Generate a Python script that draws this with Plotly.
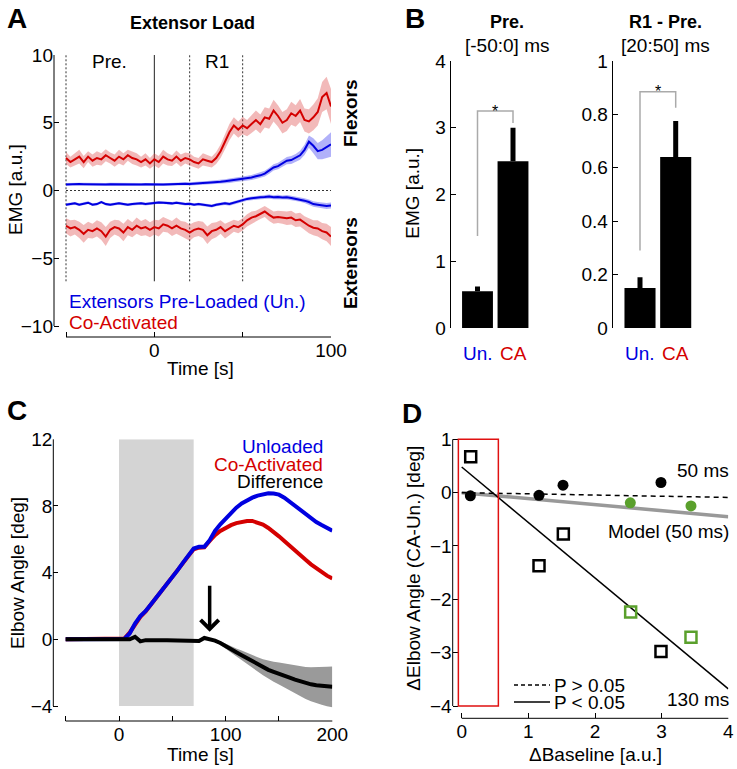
import plotly.graph_objects as go

W, H = 737, 769
FONT = "Liberation Sans, Arial, Helvetica, sans-serif"
RED = "#d40000"
BLUE = "#0000e0"
GREEN = "#5aa02c"


def px(x):
    return x / W


def py(y):
    return 1 - y / H


# ---------------- Panel A data (EMG, extensor load) ----------------
t_a = [-50, -47.5, -45, -42.5, -40, -37.5, -35, -32.5, -30, -27.5,
       -25, -22.5, -20, -17.5, -15, -12.5, -10, -7.5, -5, -2.5,
       0, 2.5, 5, 7.5, 10, 12.5, 15, 17.5, 20, 22.5,
       25, 27.5, 30, 32.5, 35, 37.5, 40, 42.5, 45, 47.5,
       50, 52.5, 55, 57.5, 60, 62.5, 65, 67.5, 70, 72.5,
       75, 77.5, 80, 82.5, 85, 87.5, 90, 92.5, 95, 97.5,
       100]
flex_ca = [2.4, 2.1, 2.3, 2.5, 2.1, 2.5, 2.2, 2.4, 2.3, 2.6,
           2.4, 2.2, 2.5, 2.3, 2.6, 2.4, 2.3, 2.1, 2.3, 2.0,
           2.3, 2.1, 2.5, 2.3, 2.2, 2.5, 2.2, 2.4, 2.3, 2.1,
           2.0, 2.3, 2.2, 2.1, 2.4, 2.9, 3.6, 4.3, 4.8, 4.5,
           4.8, 4.6, 4.9, 5.2, 4.9, 5.4, 5.3, 5.9, 5.5, 5.0,
           5.2, 5.7, 5.5, 5.9, 5.2, 5.1, 5.4, 5.8, 6.9, 7.2,
           6.2]
flex_ca_sd = [0.45, 0.4, 0.45, 0.5, 0.45, 0.4, 0.45, 0.5, 0.45, 0.45,
              0.4, 0.45, 0.5, 0.45, 0.4, 0.45, 0.45, 0.4, 0.45, 0.4,
              0.45, 0.45, 0.5, 0.45, 0.4, 0.45, 0.45, 0.4, 0.45, 0.4,
              0.4, 0.45, 0.4, 0.4, 0.45, 0.5, 0.55, 0.6, 0.6, 0.6,
              0.65, 0.6, 0.65, 0.7, 0.7, 0.75, 0.75, 0.8, 0.8, 0.8,
              0.8, 0.85, 0.8, 0.85, 0.85, 0.9, 0.95, 1.0, 1.1, 1.2,
              1.3]
flex_un = [0.45, 0.47, 0.46, 0.48, 0.47, 0.46, 0.48, 0.47, 0.46, 0.45,
           0.47, 0.46, 0.45, 0.47, 0.46, 0.45, 0.44, 0.45, 0.46, 0.44,
           0.43, 0.45, 0.44, 0.46, 0.48, 0.47, 0.49, 0.50, 0.48, 0.52,
           0.53, 0.55, 0.57, 0.58, 0.62, 0.64, 0.68, 0.72, 0.76, 0.80,
           0.86, 0.90, 0.96, 1.05, 1.12, 1.25, 1.45, 1.70, 1.80, 2.00,
           2.20, 2.25, 2.40, 2.60, 3.00, 3.60, 3.30, 2.90, 3.00, 3.20,
           3.40]
flex_un_sd = [0.1, 0.1, 0.1, 0.1, 0.1, 0.1, 0.1, 0.1, 0.1, 0.1,
              0.1, 0.1, 0.1, 0.1, 0.1, 0.1, 0.1, 0.1, 0.1, 0.1,
              0.1, 0.1, 0.1, 0.1, 0.1, 0.1, 0.11, 0.11, 0.12, 0.12,
              0.12, 0.13, 0.13, 0.14, 0.14, 0.15, 0.15, 0.16, 0.16, 0.17,
              0.18, 0.18, 0.19, 0.2, 0.2, 0.21, 0.22, 0.23, 0.24, 0.25,
              0.27, 0.29, 0.3, 0.33, 0.38, 0.45, 0.55, 0.6, 0.7, 0.8,
              0.9]
ext_un = [-1.05, -1.0, -0.95, -1.05, -1.0, -0.9, -1.05, -1.0, -0.85, -1.0,
          -1.05, -1.0, -0.95, -1.0, -1.05, -1.0, -0.98, -0.95, -1.0, -0.95,
          -0.9, -0.88, -0.9, -0.92, -0.95, -0.9, -0.95, -1.0, -0.98, -1.05,
          -1.0, -1.05, -1.1, -1.15, -1.05, -1.0, -0.95, -1.0, -0.9, -0.8,
          -0.72, -0.62, -0.58, -0.52, -0.5, -0.48, -0.45, -0.5, -0.48, -0.52,
          -0.5, -0.55, -0.6, -0.65, -0.75, -0.85, -1.0, -1.05, -1.1, -1.15,
          -1.1]
ext_un_sd = [0.1, 0.1, 0.1, 0.1, 0.1, 0.1, 0.1, 0.1, 0.1, 0.1,
             0.1, 0.1, 0.1, 0.1, 0.1, 0.1, 0.1, 0.1, 0.1, 0.1,
             0.1, 0.1, 0.1, 0.1, 0.1, 0.1, 0.1, 0.1, 0.1, 0.1,
             0.1, 0.1, 0.11, 0.11, 0.11, 0.12, 0.12, 0.12, 0.12, 0.13,
             0.13, 0.13, 0.14, 0.14, 0.14, 0.15, 0.15, 0.15, 0.16, 0.16,
             0.16, 0.17, 0.17, 0.18, 0.18, 0.19, 0.2, 0.2, 0.21, 0.22,
             0.22]
ext_ca = [-2.6, -2.8, -2.7, -2.9, -3.2, -2.9, -3.0, -2.8, -3.0, -3.4,
          -2.9, -2.7, -2.8, -3.1, -2.7, -2.9, -2.6, -2.8, -2.7, -2.9,
          -2.7, -2.8, -2.5, -2.6, -2.8, -2.6, -2.8, -2.9, -3.1, -2.9,
          -2.8, -2.9, -3.3, -3.0, -2.9, -2.7, -3.0, -2.8, -2.6, -2.7,
          -2.5, -2.2, -2.0, -1.9, -1.7, -1.55, -1.8, -2.0, -1.95, -2.0,
          -2.05, -2.0, -2.2, -2.15, -2.4, -2.6, -2.75, -2.8, -3.0, -3.1,
          -3.4]
ext_ca_sd = [0.55, 0.6, 0.55, 0.6, 0.65, 0.6, 0.55, 0.6, 0.65, 0.7,
             0.6, 0.55, 0.6, 0.65, 0.6, 0.55, 0.6, 0.55, 0.6, 0.55,
             0.55, 0.6, 0.55, 0.5, 0.55, 0.6, 0.55, 0.6, 0.6, 0.55,
             0.55, 0.6, 0.65, 0.6, 0.55, 0.5, 0.55, 0.5, 0.45, 0.45,
             0.45, 0.45, 0.45, 0.4, 0.4, 0.4, 0.45, 0.45, 0.45, 0.45,
             0.5, 0.5, 0.5, 0.5, 0.5, 0.55, 0.55, 0.6, 0.6, 0.65,
             0.7]
window_dotted = [-50, 20, 50]
window_solid = [0]
window_ymin = -6.7
a_xticks = [-50, 0, 50, 100]
a_xticklabels = ["", "0", "", "100"]
a_yticks = [-10, -5, 0, 5, 10]

# ---------------- Panel B data ----------------
b_groups = ["Un.", "CA"]
pre_vals = [0.55, 2.5]
pre_err = [0.07, 0.5]
r1_vals = [0.15, 0.64]
r1_err = [0.04, 0.135]
pre_bracket = [1.38, 3.25, 3.07]   # left bottom, top, right bottom
r1_bracket = [0.29, 0.885, 0.825]
b1_yticks = [0, 1, 2, 3, 4]
b2_yticks = [0, 0.2, 0.4, 0.6, 0.8, 1]
b2_yticklabels = ["0", "0.2", "0.4", "0.6", "0.8", "1"]

# ---------------- Panel C data ----------------
t_c = [-50, -45, -40, -35, -30, -25, -20, -15, -10, -5,
       0, 5, 10, 15, 20, 25, 30, 35, 40, 45,
       50, 55, 60, 65, 70, 75, 80, 85, 90, 95,
       100, 105, 110, 115, 120, 125, 130, 135, 140, 145,
       150, 155, 160, 165, 170, 175, 180, 185, 190, 195,
       200]
ang_un = [0, 0, 0, 0, 0, 0, 0, 0, 0, 0,
          0, 0.02, 0.35, 0.95, 1.4, 1.7, 2.1, 2.5, 2.9, 3.3,
          3.7, 4.15, 4.6, 5.05, 5.45, 5.55, 5.55, 5.95, 6.5, 6.9,
          7.25, 7.6, 7.9, 8.15, 8.35, 8.5, 8.62, 8.72, 8.76, 8.75,
          8.68, 8.5, 8.25, 7.98, 7.72, 7.48, 7.25, 7.04, 6.86, 6.68,
          6.52]
ang_ca = [0, 0, 0, 0, 0, 0, 0, 0, 0, 0,
          0, 0.05, 0.4, 0.9, 1.35, 1.68, 2.08, 2.48, 2.88, 3.28,
          3.68, 4.12, 4.57, 5.0, 5.4, 5.5, 5.52, 5.9, 6.25, 6.5,
          6.7, 6.85, 6.97, 7.05, 7.1, 7.1, 7.02, 6.88, 6.68, 6.45,
          6.18, 5.9, 5.6, 5.32, 5.05, 4.77, 4.5, 4.25, 4.02, 3.82,
          3.65]
ang_diff = [0, 0, 0, 0, 0, 0, 0, 0, 0, 0,
            0, 0, 0, 0.15, -0.12, -0.05, -0.07, -0.04, -0.06, -0.05,
            -0.06, -0.04, -0.05, -0.06, -0.08, -0.1, 0.08, 0.02, -0.08, -0.22,
            -0.42, -0.6, -0.78, -0.95, -1.12, -1.3, -1.5, -1.68, -1.83, -1.95,
            -2.05, -2.17, -2.3, -2.42, -2.53, -2.62, -2.7, -2.76, -2.8, -2.83,
            -2.85]
diff_sd = [0, 0, 0, 0, 0, 0, 0, 0, 0, 0,
           0, 0, 0, 0, 0, 0, 0, 0, 0, 0,
           0, 0, 0, 0, 0, 0, 0.02, 0.03, 0.06, 0.1,
           0.14, 0.18, 0.23, 0.28, 0.33, 0.38, 0.43, 0.48, 0.54, 0.6,
           0.66, 0.72, 0.78, 0.84, 0.9, 0.96, 1.02, 1.08, 1.13, 1.18,
           1.22]
stim_window = [0, 70]
arrow_t = 85
arrow_y = [3.3, 0.45]
c_xticks = [-50, 0, 50, 100, 150, 200]
c_xticklabels = ["", "0", "", "100", "", "200"]
c_yticks = [-4, 0, 4, 8, 12]

# ---------------- Panel D data ----------------
base_50 = [0.13, 1.16, 1.52, 2.99]
delta_50 = [-0.06, -0.05, 0.14, 0.19]
base_50_g = [2.53, 3.44]
delta_50_g = [-0.19, -0.25]
base_130 = [0.135, 1.16, 1.525, 2.99]
delta_130 = [0.675, -1.37, -0.775, -2.98]
base_130_g = [2.535, 3.44]
delta_130_g = [-2.24, -2.71]
fit_x = [0, 4]
fit_50 = [0.0, -0.09]
model_50 = [0.0, -0.45]
fit_130 = [0.48, -3.68]
low_baseline_box = [-0.05, 0.55]
d_xticks = [0, 1, 2, 3, 4]
d_yticks = [-4, -3, -2, -1, 0, 1]

fig = go.Figure()


def band(x, m, s, color, xa, ya):
    up = [a + b for a, b in zip(m, s)]
    lo = [a - b for a, b in zip(m, s)]
    fig.add_trace(go.Scatter(x=x, y=up, mode="lines", line=dict(width=0),
                             hoverinfo="skip", showlegend=False, xaxis=xa, yaxis=ya))
    fig.add_trace(go.Scatter(x=x, y=lo, mode="lines", line=dict(width=0), fill="tonexty",
                             fillcolor=color, hoverinfo="skip", showlegend=False,
                             xaxis=xa, yaxis=ya))


# ---- Panel A traces ----
fig.add_trace(go.Scatter(x=[t_a[0], t_a[-1]], y=[0, 0], mode="lines",
                         line=dict(color="#333", width=1, dash="2px,2px"),
                         showlegend=False, xaxis="x", yaxis="y"))
for xv in window_dotted:
    fig.add_trace(go.Scatter(x=[xv, xv], y=[window_ymin, a_yticks[-1]], mode="lines",
                             line=dict(color="#333", width=1, dash="2px,2px"),
                             showlegend=False, xaxis="x", yaxis="y"))
for xv in window_solid:
    fig.add_trace(go.Scatter(x=[xv, xv], y=[window_ymin, a_yticks[-1]], mode="lines",
                             line=dict(color="#222", width=1),
                             showlegend=False, xaxis="x", yaxis="y"))

red_band = "rgba(222,70,70,0.38)"
blue_band = "rgba(70,70,240,0.42)"
band(t_a, flex_ca, flex_ca_sd, red_band, "x", "y")
band(t_a, ext_ca, ext_ca_sd, red_band, "x", "y")
band(t_a, flex_un, flex_un_sd, blue_band, "x", "y")
band(t_a, ext_un, ext_un_sd, blue_band, "x", "y")
for yv, c in [(flex_ca, RED), (ext_ca, RED), (flex_un, BLUE), (ext_un, BLUE)]:
    fig.add_trace(go.Scatter(x=t_a, y=yv, mode="lines", line=dict(color=c, width=2),
                             showlegend=False, xaxis="x", yaxis="y"))

# ---- Panel B traces ----
for vals, errs, br, xa, ya in [(pre_vals, pre_err, pre_bracket, "x2", "y2"),
                               (r1_vals, r1_err, r1_bracket, "x3", "y3")]:
    fig.add_trace(go.Bar(x=[1, 2], y=vals, width=0.87, marker=dict(color="black", line=dict(width=0)),
                         error_y=dict(type="data", array=errs, arrayminus=[0, 0], symmetric=False,
                                      thickness=5, width=0, color="black"),
                         showlegend=False, xaxis=xa, yaxis=ya))
    fig.add_trace(go.Scatter(x=[1, 1, 2, 2], y=[br[0], br[1], br[1], br[2]], mode="lines",
                             line=dict(color="#aaaaaa", width=1.5), showlegend=False,
                             xaxis=xa, yaxis=ya))

# ---- Panel C traces ----
fig.add_trace(go.Scatter(x=t_c, y=[a + b for a, b in zip(ang_diff, diff_sd)], mode="lines",
                         line=dict(width=0), hoverinfo="skip", showlegend=False,
                         xaxis="x4", yaxis="y4"))
fig.add_trace(go.Scatter(x=t_c, y=[a - b for a, b in zip(ang_diff, diff_sd)], mode="lines",
                         line=dict(width=0), fill="tonexty", fillcolor="#9a9a9a",
                         hoverinfo="skip", showlegend=False, xaxis="x4", yaxis="y4"))
fig.add_trace(go.Scatter(x=t_c, y=ang_ca, mode="lines", line=dict(color=RED, width=4),
                         showlegend=False, xaxis="x4", yaxis="y4"))
fig.add_trace(go.Scatter(x=t_c, y=ang_un, mode="lines", line=dict(color=BLUE, width=4),
                         showlegend=False, xaxis="x4", yaxis="y4"))
fig.add_trace(go.Scatter(x=t_c, y=ang_diff, mode="lines", line=dict(color="black", width=4),
                         showlegend=False, xaxis="x4", yaxis="y4"))

# ---- Panel D traces ----
fig.add_trace(go.Scatter(x=fit_x, y=model_50, mode="lines", line=dict(color="#999999", width=3.5),
                         showlegend=False, xaxis="x5", yaxis="y5"))
fig.add_trace(go.Scatter(x=fit_x, y=fit_50, mode="lines",
                         line=dict(color="black", width=1.5, dash="5px,4px"),
                         showlegend=False, xaxis="x5", yaxis="y5"))
fig.add_trace(go.Scatter(x=fit_x, y=fit_130, mode="lines", line=dict(color="black", width=1.5),
                         showlegend=False, xaxis="x5", yaxis="y5"))
fig.add_trace(go.Scatter(x=base_50, y=delta_50, mode="markers",
                         marker=dict(color="black", size=11, line=dict(width=0)),
                         showlegend=False, xaxis="x5", yaxis="y5"))
fig.add_trace(go.Scatter(x=base_50_g, y=delta_50_g, mode="markers",
                         marker=dict(color=GREEN, size=11, line=dict(width=0)),
                         showlegend=False, xaxis="x5", yaxis="y5"))
fig.add_trace(go.Scatter(x=base_130, y=delta_130, mode="markers",
                         marker=dict(symbol="square-open", color="black", size=11,
                                     line=dict(width=2.5, color="black")),
                         showlegend=False, xaxis="x5", yaxis="y5"))
fig.add_trace(go.Scatter(x=base_130_g, y=delta_130_g, mode="markers",
                         marker=dict(symbol="square-open", color=GREEN, size=11,
                                     line=dict(width=2.5, color=GREEN)),
                         showlegend=False, xaxis="x5", yaxis="y5"))


# ---------------- layout geometry (pixels) ----------------
# Panel A: y spine at x=54, x spine at y=337; data x -50..100 -> 66..331, y -10..10 -> 326..55
A_sx = (331 - 66) / 150.0
A_sy = (326 - 55) / 20.0
A_xr = [-50 - (66 - 54) / A_sx, 100]
A_yr = [-10 - (337 - 326) / A_sy, 10]
# Panel C: y spine x=53.3, x spine y=721; data x -50..200 -> 65.7..332.3, y -4..12 -> 706..439.3
C_sx = (332.3 - 65.7) / 250.0
C_sy = (706 - 439.3) / 16.0
C_xr = [-50 - (65.7 - 53.3) / C_sx, 200]
C_yr = [-4 - (721 - 706) / C_sy, 12]
# Panel D: y spine x=452.7, x spine y=718.3; data x 0..4 -> 461.7..728.3, y -4..1 -> 706..439.3
D_sx = (728.3 - 461.7) / 4.0
D_sy = (706 - 439.3) / 5.0
D_top = 436.5
D_xr = [0 - (461.7 - 452.7) / D_sx, 4]
D_yr = [-4 - (718.3 - 706) / D_sy, 1 + (439.3 - D_top) / D_sy]


def spine(x0, y0, x1, y1):
    return dict(type="line", xref="paper", yref="paper", x0=px(x0), x1=px(x1), y0=py(y0), y1=py(y1),
                line=dict(color="black", width=1), layer="above")


shapes = [
    dict(type="rect", xref="x4", yref="y4", x0=stim_window[0], x1=stim_window[1],
         y0=c_yticks[0], y1=c_yticks[-1], fillcolor="#d4d4d4", line=dict(width=0), layer="below"),
    dict(type="rect", xref="x5", yref="y5", x0=low_baseline_box[0], x1=low_baseline_box[1],
         y0=d_yticks[0], y1=d_yticks[-1], fillcolor="rgba(0,0,0,0)",
         line=dict(color="#e01010", width=1.5), layer="above"),
    dict(type="line", xref="paper", yref="paper", x0=px(514), x1=px(550), y0=py(685), y1=py(685),
         line=dict(color="black", width=1.5, dash="4px,3px")),
    dict(type="line", xref="paper", yref="paper", x0=px(514), x1=px(550), y0=py(702), y1=py(702),
         line=dict(color="black", width=1.5)),
    spine(54, 55, 54, 326), spine(66, 337, 331, 337),
    spine(53.3, 439.3, 53.3, 706), spine(65.7, 721, 332.3, 721),
    spine(452.7, 439.3, 452.7, 706), spine(461.7, 718.3, 728.3, 718.3),
]

ann = []


def txt(x, y, s, size=19, color="black", bold=False, xanchor="center", angle=0):
    ann.append(dict(x=px(x), y=py(y), xref="paper", yref="paper", text=f"<b>{s}</b>" if bold else s,
                    showarrow=False, xanchor=xanchor, yanchor="middle", textangle=angle,
                    font=dict(family=FONT, size=size, color=color)))


txt(17, 18, "A", 28, bold=True)
txt(415, 18, "B", 28, bold=True)
txt(17, 410, "C", 28, bold=True)
txt(412.5, 413, "D", 28, bold=True)
txt(193, 23, "Extensor Load", 18, bold=True)
txt(110, 62, "Pre.")
txt(217, 62, "R1")
txt(350, 113, "Flexors", 19, bold=True, angle=-90)
txt(350, 263, "Extensors", 19, bold=True, angle=-90)
txt(67, 301, "Extensors Pre-Loaded (Un.)", 19, BLUE, xanchor="left")
txt(67, 322.5, "Co-Activated", 19, RED, xanchor="left")
txt(15, 190, "EMG [a.u.]", angle=-90)
txt(200, 368, "Time [s]")
txt(506.7, 22, "Pre.", 18, bold=True)
txt(506.7, 46, "[-50:0] ms")
txt(665, 22, "R1 - Pre.", 18, bold=True)
txt(665, 46, "[20:50] ms")
txt(411.7, 193, "EMG [a.u.]", angle=-90)
txt(325, 446, "Unloaded", 19, BLUE, xanchor="right")
txt(325, 464, "Co-Activated", 19, RED, xanchor="right")
txt(325, 481, "Difference", 19, "black", xanchor="right")
txt(17, 573, "Elbow Angle [deg]", angle=-90)
txt(200, 754, "Time [s]")
txt(731, 470, "50 ms", xanchor="right")
txt(731, 531, "Model (50 ms)", xanchor="right")
txt(731, 699, "130 ms", xanchor="right")
txt(552, 685, "P > 0.05", xanchor="left")
txt(552, 702, "P < 0.05", xanchor="left")
txt(412.7, 568, "ΔElbow Angle (CA-Un.) [deg]", angle=-90)
txt(595, 754, "ΔBaseline [a.u.]")

for xa in ["x2", "x3"]:
    for i, (g, c) in enumerate(zip(b_groups, [BLUE, RED])):
        ann.append(dict(x=i + 1, y=py(354), xref=xa, yref="paper", text=g, showarrow=False,
                        xanchor="center", yanchor="middle",
                        font=dict(family=FONT, size=19, color=c)))
for xa, ya, br in [("x2", "y2", pre_bracket), ("x3", "y3", r1_bracket)]:
    ann.append(dict(x=1.5, y=br[1], xref=xa, yref=ya, text="*", showarrow=False,
                    xanchor="center", yanchor="middle",
                    font=dict(family=FONT, size=16, color="black")))
ann.append(dict(x=arrow_t, y=arrow_y[1], ax=arrow_t, ay=arrow_y[0], xref="x4", yref="y4",
                axref="x4", ayref="y4", text="", showarrow=True, arrowhead=4, arrowsize=1,
                arrowwidth=3.5, arrowcolor="black", standoff=0))

tickfont = dict(family=FONT, size=19, color="black")
axcommon = dict(showgrid=False, zeroline=False, showline=False,
                ticks="inside", ticklen=5, tickwidth=1, tickcolor="black", tickfont=tickfont,
                fixedrange=True, tickmode="array")

fig.update_layout(
    width=W, height=H, margin=dict(l=0, r=0, t=0, b=0, pad=0, autoexpand=False),
    paper_bgcolor="white", plot_bgcolor="rgba(0,0,0,0)",
    font=dict(family=FONT, size=19, color="black"),
    showlegend=False, shapes=shapes, annotations=ann,
    # Panel A
    xaxis=dict(axcommon, domain=[px(54), px(331)], range=A_xr, anchor="y",
               tickvals=a_xticks, ticktext=a_xticklabels),
    yaxis=dict(axcommon, domain=[py(337), py(55)], range=A_yr, anchor="x", tickvals=a_yticks),
    # Panel B1
    xaxis2=dict(domain=[px(450.7), px(535)],
                range=[1 - (477.5 - 450.7) / 35.5, 1 + (535 - 477.5) / 35.5],
                visible=False, fixedrange=True, anchor="y2"),
    yaxis2=dict(axcommon, showline=True, linecolor="black", linewidth=1,
                domain=[py(328), py(61)], range=[0, 4], anchor="x2", tickvals=b1_yticks),
    # Panel B2
    xaxis3=dict(domain=[px(612.7), px(697)],
                range=[1 - (640 - 612.7) / 35.7, 1 + (697 - 640) / 35.7],
                visible=False, fixedrange=True, anchor="y3"),
    yaxis3=dict(axcommon, showline=True, linecolor="black", linewidth=1,
                domain=[py(328), py(61)], range=[0, 1], anchor="x3", tickvals=b2_yticks,
                ticktext=b2_yticklabels),
    # Panel C
    xaxis4=dict(axcommon, domain=[px(53.3), px(332.3)], range=C_xr, anchor="y4",
                tickvals=c_xticks, ticktext=c_xticklabels),
    yaxis4=dict(axcommon, domain=[py(721), py(439.3)], range=C_yr, anchor="x4", tickvals=c_yticks),
    # Panel D
    xaxis5=dict(axcommon, domain=[px(452.7), px(728.3)], range=D_xr, anchor="y5",
                tickvals=d_xticks),
    yaxis5=dict(axcommon, domain=[py(718.3), py(D_top)], range=D_yr, anchor="x5",
                tickvals=d_yticks),
)

fig.write_html("out.html", config={"displayModeBar": False},
               post_script="document.body.style.margin='0';document.body.style.padding='0';")
